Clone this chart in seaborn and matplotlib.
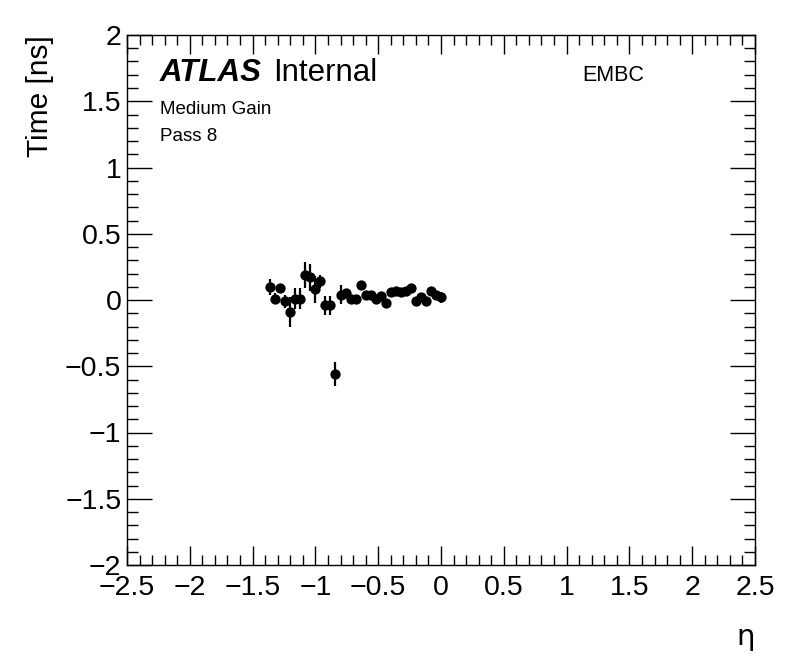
import numpy as np
import pandas as pd
import matplotlib
matplotlib.use("Agg")
import matplotlib.pyplot as plt
import seaborn as sns
from matplotlib.ticker import MultipleLocator

eta = [-1.36, -1.32, -1.28, -1.24, -1.20, -1.16, -1.12, -1.08, -1.04, -1.00,
       -0.96, -0.92, -0.88, -0.84, -0.80, -0.76, -0.72, -0.68, -0.64, -0.60,
       -0.56, -0.52, -0.48, -0.44, -0.40, -0.36, -0.32, -0.28, -0.24, -0.20,
       -0.16, -0.12, -0.08, -0.04, 0.00]
time_ns = [0.10, 0.01, 0.09, -0.01, -0.09, 0.01, 0.01, 0.19, 0.17, 0.08,
           0.14, -0.04, -0.04, -0.56, 0.04, 0.05, 0.01, 0.01, 0.11, 0.04,
           0.04, 0.01, 0.03, -0.02, 0.06, 0.07, 0.06, 0.07, 0.09, -0.01,
           0.02, -0.01, 0.07, 0.04, 0.02]
time_err = [0.06, 0.04, 0.03, 0.05, 0.11, 0.08, 0.08, 0.10, 0.10, 0.10,
            0.05, 0.07, 0.07, 0.09, 0.07, 0.03, 0.02, 0.02, 0.02, 0.02,
            0.02, 0.02, 0.02, 0.02, 0.02, 0.02, 0.02, 0.02, 0.02, 0.02,
            0.02, 0.02, 0.02, 0.02, 0.04]

df = pd.DataFrame({"eta": eta, "time": time_ns, "err": time_err})

sns.set_theme(style="white")
plt.rcParams['font.family'] = ['Liberation Sans', 'DejaVu Sans']
plt.rcParams['axes.unicode_minus'] = True
for k in ["text.color", "axes.labelcolor", "xtick.color", "ytick.color",
          "xtick.labelcolor", "ytick.labelcolor"]:
    plt.rcParams[k] = "black"

W, H = 796, 672
fig = plt.figure(figsize=(W / 100, H / 100), dpi=100)
L, R, T, B = 127, 755, 35, 565
ax = fig.add_axes([L / W, 1 - B / H, (R - L) / W, (B - T) / H])

ax.errorbar(df["eta"], df["time"], yerr=df["err"], fmt="none",
            ecolor="black", elinewidth=1.6, capsize=0, zorder=2)
sns.scatterplot(data=df, x="eta", y="time", ax=ax, color="black",
                s=55, edgecolor="black", linewidth=0, zorder=3, legend=False)

ax.set_xlim(-2.5, 2.5)
ax.set_ylim(-2, 2)
ax.xaxis.set_major_locator(MultipleLocator(0.5))
ax.xaxis.set_minor_locator(MultipleLocator(0.1))
ax.yaxis.set_major_locator(MultipleLocator(0.5))
ax.yaxis.set_minor_locator(MultipleLocator(0.1))
ax.tick_params(which="both", direction="in", top=True, right=True,
               bottom=True, left=True, color="black", width=1)
ax.tick_params(which="major", axis="x", length=14, labelsize=20.5, pad=7)
ax.tick_params(which="minor", axis="x", length=7)
ax.tick_params(which="major", axis="y", length=18, labelsize=20.5, pad=4)
ax.tick_params(which="minor", axis="y", length=8)

def fmt(v, pos):
    s = f"{v:g}"
    return s.replace("-", "\u2212")
ax.xaxis.set_major_formatter(plt.FuncFormatter(fmt))
ax.yaxis.set_major_formatter(plt.FuncFormatter(fmt))

for sp in ax.spines.values():
    sp.set_color("black")
    sp.set_linewidth(1)

ax.set_xlabel("")
ax.set_ylabel("")
fig.text(40 / W, 1 - T / H, "Time [ns]", rotation=90, fontsize=21.5,
         ha="center", va="top")
fig.text(755 / W, 1 - 637 / H, "η", fontsize=21, ha="right", va="center",
         family=['DejaVu Sans'])

fig.text(160 / W, 1 - 81 / H, "ATLAS", fontsize=22.5, fontweight="bold",
         fontstyle="italic", ha="left", va="baseline")
fig.text(273 / W, 1 - 81 / H, "Internal", fontsize=22.5, ha="left", va="baseline")
fig.text(160 / W, 1 - 114 / H, "Medium Gain", fontsize=13.5, ha="left", va="baseline")
fig.text(160 / W, 1 - 141 / H, "Pass 8", fontsize=13.5, ha="left", va="baseline")
fig.text(582 / W, 1 - 81 / H, "EMBC", fontsize=15.5, ha="left", va="baseline")

fig.savefig("out.png", dpi=100, facecolor="white")
